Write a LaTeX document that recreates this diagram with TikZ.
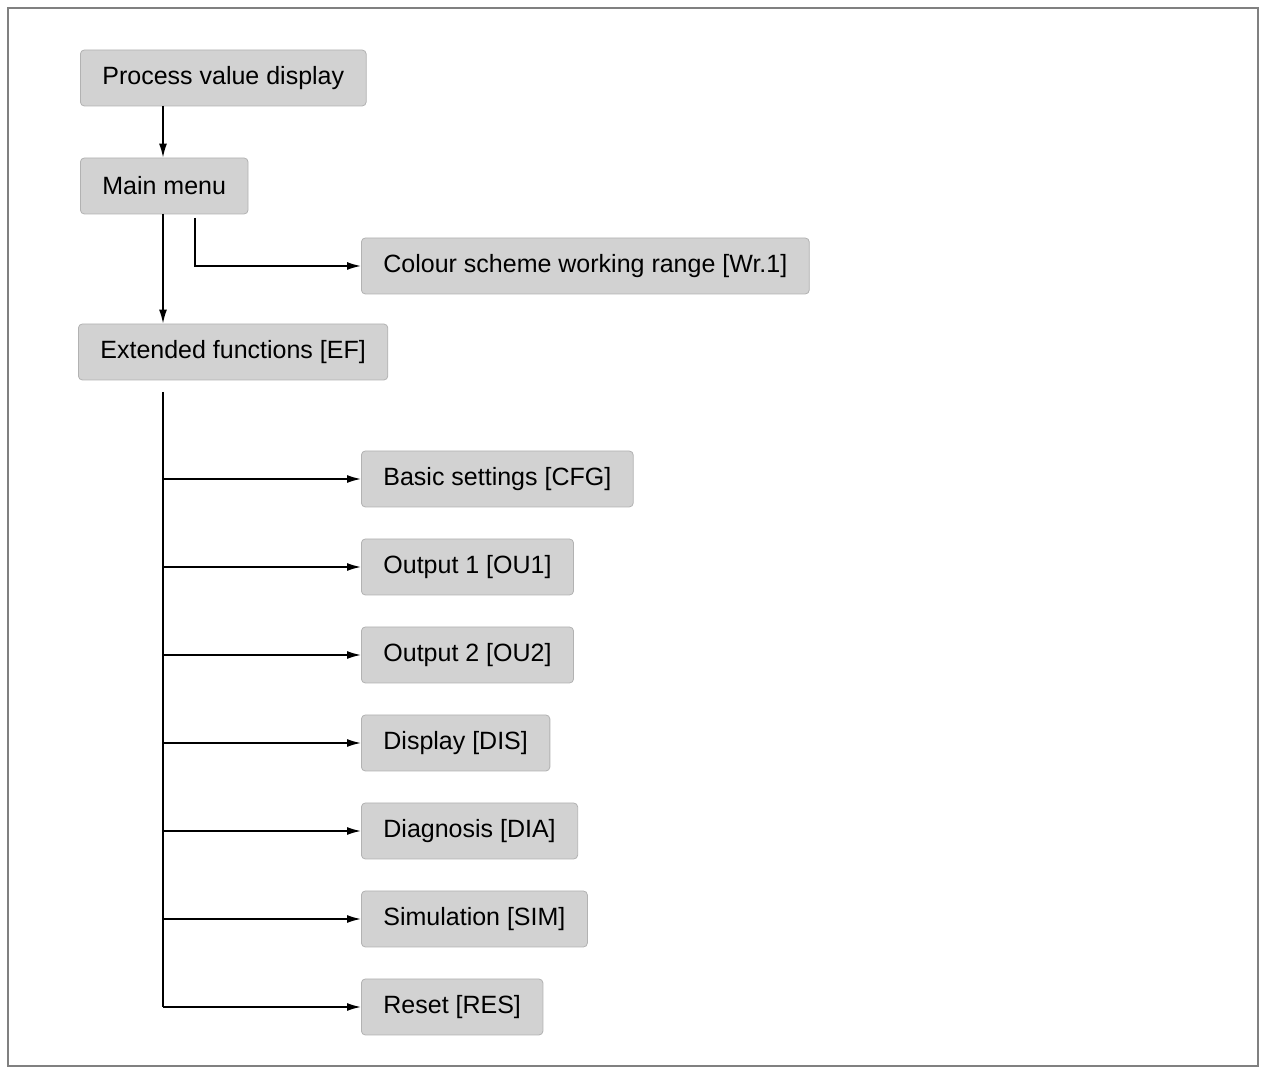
\documentclass[tikz,border=0pt]{standalone}
\usepackage{fontspec}
\setmainfont{Liberation Sans}
\usetikzlibrary{arrows.meta,positioning}

\begin{document}
\begin{tikzpicture}[x=0.5pt, y=-0.5pt,
    box/.style={draw=gray!60, fill=gray!35, rounded corners=2pt, anchor=west,
      inner xsep=11pt, minimum height=28pt, font=\fontsize{12.5}{14}\selectfont},
    link/.style={thick, -{Latex[length=7pt,width=4pt]}}]
      \useasboundingbox (0,0) rectangle (1265,1068);
      \draw[gray, line width=0.8pt] (8,8) rectangle (1258,1066);
      \node[box] (pvd) at (80, 78) {Process value display};
      \node[box] (menu) at (80, 186) {Main menu};
      \node[box] (wr) at (361, 266) {Colour scheme working range [Wr.1]};
      \node[box] (ef) at (78, 352) {Extended functions [EF]};
      \node[box] (cfg) at (361, 479) {Basic settings [CFG]};
      \node[box] (ou1) at (361, 567) {Output 1 [OU1]};
      \node[box] (ou2) at (361, 655) {Output 2 [OU2]};
      \node[box] (dis) at (361, 743) {Display [DIS]};
      \node[box] (dia) at (361, 831) {Diagnosis [DIA]};
      \node[box] (sim) at (361, 919) {Simulation [SIM]};
      \node[box] (res) at (361, 1007) {Reset [RES]};
      \coordinate (a) at (163, 106);
      \coordinate (b) at (163, 214);
      \coordinate (c) at (195, 218);
      \coordinate (d) at (163, 392);
      \draw[link] (a) -- (a |- menu.north);
      \draw[link] (b) -- (b |- ef.north);
      \draw[link] (c) |- (wr.west);
      \foreach \n in {cfg,ou1,ou2,dis,dia,sim,res}
        \draw[link] (d |- \n.west) -- (\n.west);
      \draw[thick] (d) -- (d |- res.west);
    \end{tikzpicture}
\end{document}
